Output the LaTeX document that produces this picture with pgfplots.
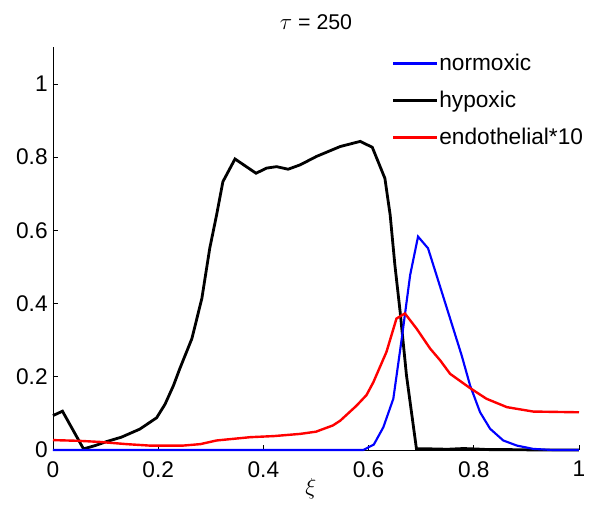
\documentclass[border=0pt]{standalone}
\usepackage{fontspec}
\setmainfont{Liberation Sans}
\usepackage{pgfplots}
\pgfplotsset{compat=1.18}
\begin{document}
\begin{tikzpicture}
\begin{axis}[
  scale only axis,
  width=394.5pt, height=302pt,
  xmin=0, xmax=1, ymin=0, ymax=1.1,
  axis x line=bottom, axis y line=left,
  axis line style={-, line width=0.6pt},
  tick align=inside,
  major tick length=3.75pt,
  tick style={line width=0.6pt, black},
  xtick={0,0.2,0.4,0.6,0.8,1},
  ytick={0,0.2,0.4,0.6,0.8,1},
  /pgf/number format/assume math mode=true,
  tick label style={font=\fontsize{17}{20}\selectfont},
  xticklabel style={yshift=-5pt},
  yticklabel style={xshift=-0.5pt},
  clip=false,
  title={$\tau$ = 250},
  title style={font=\fontsize{16}{19}\selectfont, at={(axis description cs:0.5,1)}, anchor=base, yshift=7.5pt, inner sep=0pt},
  xlabel={$\xi$},
  xlabel style={font=\fontsize{18}{21}\selectfont, at={(axis description cs:0.49,0)}, anchor=north, yshift=-21pt, inner sep=0pt},
  legend cell align=left,
  legend style={draw=none, fill=none, at={(axis description cs:0.644,1)}, anchor=north west, yshift=-4pt,
    font=\fontsize{17}{20}\selectfont, row sep=12pt, inner sep=0pt,
    nodes={inner sep=1pt}},
  legend image code/.code={\draw[#1] (0pt,0pt) -- (32.5pt,0pt);},
]
\addlegendimage{blue, line width=1.6pt}
\addlegendentry{normoxic}
\addlegendimage{black, line width=2pt}
\addlegendentry{hypoxic}
\addlegendimage{red, line width=1.8pt}
\addlegendentry{endothelial*10}

% hypoxic
\addplot[black, line width=2.1pt, forget plot] coordinates {
(0,0.094) (0.018,0.106) (0.058,0.003) (0.08,0.012) (0.102,0.023) (0.13,0.035)
(0.165,0.057) (0.197,0.088) (0.213,0.125) (0.229,0.176) (0.241,0.222) (0.264,0.304)
(0.283,0.414) (0.298,0.551) (0.311,0.642) (0.323,0.733) (0.346,0.795) (0.386,0.756)
(0.406,0.770) (0.425,0.774) (0.447,0.767) (0.470,0.779) (0.501,0.802) (0.546,0.829)
(0.584,0.843) (0.607,0.827) (0.631,0.742) (0.641,0.642) (0.650,0.505) (0.660,0.377)
(0.672,0.204) (0.691,0.003) (0.72,0.003) (0.75,0.002) (0.78,0.004) (0.80,0.003)
(0.83,0.001) (0.87,0.001) (0.92,0.0) (1,0)
};
% normoxic
\addplot[blue, line width=1.6pt, forget plot] coordinates {
(0,0) (0.3,0) (0.59,0) (0.61,0.015) (0.628,0.062) (0.647,0.14) (0.663,0.304)
(0.679,0.478) (0.694,0.583) (0.713,0.551) (0.729,0.478) (0.755,0.359) (0.777,0.258)
(0.793,0.176) (0.812,0.103) (0.831,0.058) (0.856,0.026) (0.882,0.012) (0.913,0.003)
(0.95,0) (1,0)
};
% endothelial*10
\addplot[red, line width=1.8pt, forget plot] coordinates {
(0,0.027) (0.05,0.025) (0.089,0.022) (0.14,0.016) (0.184,0.012) (0.247,0.012)
(0.28,0.016) (0.311,0.026) (0.375,0.035) (0.42,0.038) (0.47,0.044) (0.5,0.05)
(0.532,0.067) (0.546,0.080) (0.577,0.121) (0.596,0.15) (0.609,0.185) (0.634,0.268)
(0.653,0.359) (0.669,0.373) (0.691,0.332) (0.717,0.277) (0.736,0.245) (0.755,0.208)
(0.793,0.169) (0.824,0.140) (0.863,0.117) (0.913,0.105) (1,0.103)
};
\end{axis}
\pgfresetboundingbox
\useasboundingbox (-39.75pt,-44.25pt) rectangle (411pt,337.5pt);
\end{tikzpicture}
\end{document}
